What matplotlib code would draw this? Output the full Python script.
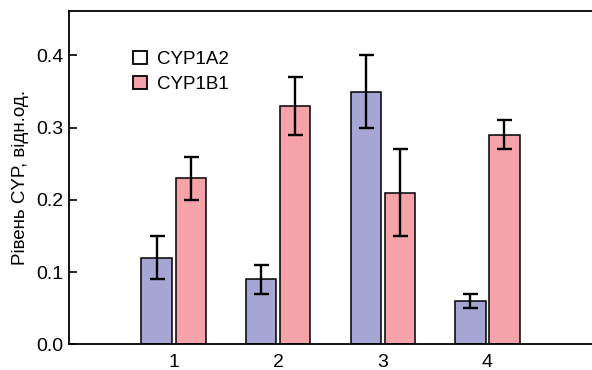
import matplotlib
matplotlib.use("Agg")
import matplotlib.pyplot as plt
import numpy as np
from matplotlib.patches import Patch

plt.rcParams['font.family'] = ['Liberation Sans', 'DejaVu Sans']

groups = ["1", "2", "3", "4"]
cyp1a2 = [0.12, 0.09, 0.35, 0.06]
cyp1a2_err = [0.03, 0.02, 0.05, 0.01]
cyp1b1 = [0.23, 0.33, 0.21, 0.29]
cyp1b1_err = [0.03, 0.04, 0.06, 0.02]
yticks = [0.0, 0.1, 0.2, 0.3, 0.4]

blue = "#a6a6d4"
pink = "#f5a3a8"

fig = plt.figure(figsize=(5.92, 3.70), dpi=100)
ax = fig.add_axes([0.1166, 0.0695, 0.8834, 0.9015])

x = np.arange(1, len(groups) + 1)
w = 0.29
off = 0.163
ekw = dict(elinewidth=1.7, capthick=1.7, ecolor="black")
ax.bar(x - off, cyp1a2, w, color=blue, edgecolor="black", linewidth=1.1,
       yerr=cyp1a2_err, capsize=5.4, error_kw=ekw, zorder=2)
ax.bar(x + off, cyp1b1, w, color=pink, edgecolor="black", linewidth=1.1,
       yerr=cyp1b1_err, capsize=5.4, error_kw=ekw, zorder=2)

ax.set_xlim(0, 5)
ax.set_ylim(0, 0.462)
ax.set_xticks(x)
ax.set_xticklabels(groups)
ax.set_yticks(yticks)
ax.set_yticklabels([f"{v:.1f}" for v in yticks])
ax.tick_params(axis="x", length=0, labelsize=14, pad=7)
ax.tick_params(axis="y", direction="in", length=6, width=1.2, labelsize=14, pad=4)
ax.spines["right"].set_visible(False)
for s in ["left", "top", "bottom"]:
    ax.spines[s].set_linewidth(1.3)

ax.set_ylabel("Рівень CYP, відн.од.", fontsize=13.5, labelpad=5)

handles = [Patch(facecolor="white", edgecolor="black", linewidth=1.3),
           Patch(facecolor=pink, edgecolor="black", linewidth=1.3)]
ax.legend(handles, ["CYP1A2", "CYP1B1"], loc="upper left",
          bbox_to_anchor=(0.108, 0.902), frameon=False, fontsize=13.5,
          handlelength=0.72, handleheight=0.72, handletextpad=0.55,
          labelspacing=0.42, borderaxespad=0)

fig.savefig("out.png", dpi=100)
